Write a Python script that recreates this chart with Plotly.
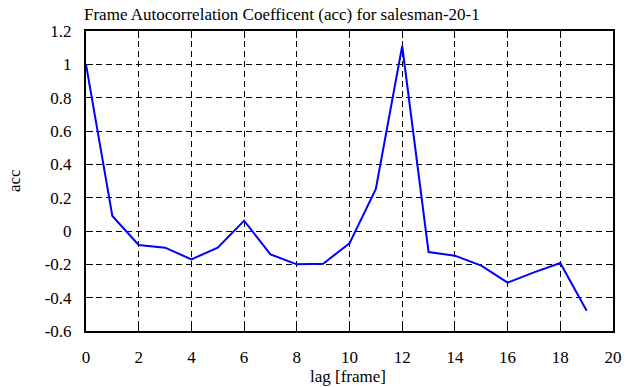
import plotly.graph_objects as go

lags = list(range(20))
acc = [1.0, 0.09, -0.084, -0.10, -0.17, -0.10, 0.062, -0.14, -0.20, -0.196,
       -0.074, 0.252, 1.11, -0.126, -0.148, -0.208, -0.31, -0.248, -0.192, -0.478]

x_ticks = [0, 2, 4, 6, 8, 10, 12, 14, 16, 18, 20]
y_ticks = [-0.6, -0.4, -0.2, 0, 0.2, 0.4, 0.6, 0.8, 1, 1.2]
y_labels = ["-0.6", "-0.4", "-0.2", "0", "0.2", "0.4", "0.6", "0.8", "1", "1.2"]

FONT = "Liberation Serif"

fig = go.Figure()
fig.add_trace(go.Scatter(x=lags, y=acc, mode="lines",
                         line=dict(color="#0000ff", width=2), showlegend=False))

axis_common = dict(
    showline=True, linecolor="black", linewidth=2, mirror="ticks",
    ticks="inside", ticklen=7, tickwidth=1, tickcolor="black",
    showgrid=True, gridcolor="black", gridwidth=1, griddash="6px,4px",
    zeroline=False, automargin=False,
    tickfont=dict(family=FONT, size=17, color="black"),
)

fig.update_layout(
    width=641, height=387,
    margin=dict(l=86, r=28, t=31, b=56),
    paper_bgcolor="white", plot_bgcolor="white",
    font=dict(family=FONT, size=17, color="black"),
    xaxis=dict(range=[0, 20], tickvals=x_ticks, ticklabelstandoff=10, **axis_common),
    yaxis=dict(range=[-0.6, 1.2], tickvals=y_ticks, ticktext=y_labels,
               ticklabelstandoff=9, **axis_common),
    annotations=[
        dict(text="Frame Autocorrelation Coefficent (acc) for salesman-20-1",
             xref="paper", yref="paper", x=(282 - 86) / 527, y=1,
             yshift=17, showarrow=False, xanchor="center", yanchor="middle",
             font=dict(family=FONT, size=17)),
        dict(text="lag [frame]", xref="paper", yref="paper",
             x=(348 - 86) / 527, y=0, yshift=-45, showarrow=False,
             xanchor="center", yanchor="middle", font=dict(family=FONT, size=17)),
        dict(text="acc", xref="paper", yref="paper", x=0, xshift=-72,
             y=(331 - 181) / 300, showarrow=False, textangle=-90,
             xanchor="center", yanchor="middle", font=dict(family=FONT, size=17)),
    ],
)

fig.write_html("out.html", config={"displayModeBar": False},
               post_script="document.body.style.margin='0';document.body.style.padding='0';")
